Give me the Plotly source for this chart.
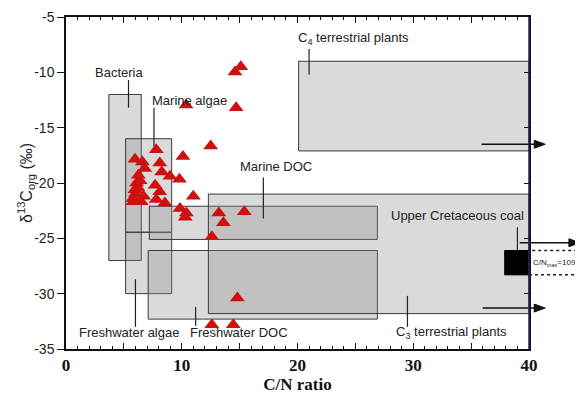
import plotly.graph_objects as go

# ---- data ----
cn_ratio = [10.37, 14.7, 14.6, 15.1, 12.5, 10.1, 7.8, 5.96, 6.6, 8.1, 6.8, 8.27, 8.98, 9.8,
            6.25, 6.1, 5.96, 5.8, 6.7, 7.7, 8.1, 7.8, 8.55, 5.8, 6.5, 11.0, 9.85, 10.4, 10.3,
            13.2, 15.4, 13.6, 12.6, 14.8, 12.6, 14.45, 6.2, 6.4, 6.0]
d13c = [-12.95, -13.2, -9.97, -9.5, -16.65, -17.6, -17.0, -17.85, -18.1, -18.2, -18.7, -19.0,
        -19.4, -19.65, -19.3, -20.0, -20.6, -21.4, -21.2, -20.2, -20.8, -21.5, -21.8, -21.7,
        -21.7, -21.2, -22.3, -22.7, -23.1, -22.7, -22.6, -23.6, -24.85, -30.4, -32.8, -32.8,
        -20.4, -19.8, -21.0]

box_names = ["Bacteria", "Marine algae", "Freshwater algae", "Marine DOC", "Freshwater DOC",
             "C3 terrestrial plants", "C4 terrestrial plants"]
box_x0 = [3.7, 5.15, 5.15, 7.2, 7.1, 12.3, 20.1]
box_x1 = [6.5, 9.13, 9.13, 26.9, 26.9, 40.0, 40.0]
box_y0 = [-27.0, -24.45, -30.0, -25.1, -32.3, -31.8, -17.1]
box_y1 = [-12.0, -16.0, -24.45, -22.1, -26.1, -21.0, -9.0]

coal_x = [37.9, 44.4]
coal_y = [-28.3, -26.1]

label_texts = ["Bacteria", "Marine algae", "C<sub>4</sub> terrestrial plants", "Marine DOC",
               "Upper Cretaceous coal", "Freshwater algae", "Freshwater DOC",
               "C<sub>3</sub> terrestrial plants"]
label_x = [2.3, 7.25, 19.9, 14.9, 27.9, 0.95, 10.55, 28.3]
label_y = [-9.97, -12.5, -6.9, -18.55, -22.9, -33.55, -33.55, -33.55]

leader_x = [5.4, 7.6, 21.0, 17.05, 39.0, 6.0, 11.2, 29.5]
leader_y0 = [-10.7, -13.2, -7.9, -19.5, -24.0, -28.7, -31.2, -30.2]
leader_y1 = [-13.2, -16.7, -10.2, -23.2, -26.1, -33.0, -32.9, -33.0]

arrow_y = [-16.5, -31.3, -25.4]
arrow_x0 = [35.9, 36.0, 39.2]
arrow_x1 = [41.4, 41.4, 44.4]

x_major = [0, 10, 20, 30, 40]
x_mid = [5, 15, 25, 35]
y_ticks = [-35, -30, -25, -20, -15, -10, -5]
y_ticktext = ["-35", "-30", "-25", "-20", "-15", "-10", "-5"]

XMAX = 40.0
YMIN, YMAX = -35.0, -5.0
# page body has an 8px margin, so the figure is offset by 8px
OFF = 8
FW, FH = 583 - OFF, 395 - OFF
L, R, T, B = 66 - OFF, 54, 17 - OFF, 46
W = FW - L - R
H = FH - T - B


def px_x(v):
    return v / XMAX


def px_y(v):
    return (v - YMIN) / (YMAX - YMIN)


fig = go.Figure()

fig.add_trace(go.Scatter(
    x=cn_ratio, y=d13c, mode="markers",
    marker=dict(symbol="triangle-up", size=13, color="#cf1010", line=dict(width=0)),
    showlegend=False, cliponaxis=False))

# empty traces to activate overlay axes (inward ticks on right, mid ticks on x)
fig.add_trace(go.Scatter(x=[None], y=[None], yaxis="y2", showlegend=False))
fig.add_trace(go.Scatter(x=[None], y=[None], xaxis="x2", showlegend=False))

shapes = []
for x0, x1, y0, y1 in zip(box_x0, box_x1, box_y0, box_y1):
    shapes.append(dict(type="rect", xref="x", yref="y", x0=x0, x1=x1, y0=y0, y1=y1,
                       fillcolor="rgba(140,140,140,0.32)",
                       line=dict(color="#3a3a3a", width=1), layer="below"))
# coal box (inside plot) and dashed continuation (outside plot)
shapes.append(dict(type="rect", xref="paper", yref="paper", x0=px_x(coal_x[0]), x1=1.0,
                   y0=px_y(coal_y[0]), y1=px_y(coal_y[1]), fillcolor="black",
                   line=dict(color="black", width=1)))
shapes.append(dict(type="rect", xref="paper", yref="paper", x0=1.0, x1=px_x(coal_x[1]),
                   y0=px_y(coal_y[0]), y1=px_y(coal_y[1]), fillcolor="rgba(0,0,0,0)",
                   line=dict(color="#222", width=1.5, dash="dot")))
for lx, ly0, ly1 in zip(leader_x, leader_y0, leader_y1):
    shapes.append(dict(type="line", xref="x", yref="y", x0=lx, x1=lx, y0=ly0, y1=ly1,
                       line=dict(color="#222", width=1.2), layer="below"))
# arrows: shaft + head (paper coords, outside plot allowed)
hw = 11.0 / W
hh = 4.0 / H
for ay, ax0, ax1 in zip(arrow_y, arrow_x0, arrow_x1):
    xs, xe, yy = px_x(ax0), px_x(ax1), px_y(ay)
    shapes.append(dict(type="line", xref="paper", yref="paper", x0=xs, x1=xe - hw * 0.5,
                       y0=yy, y1=yy, line=dict(color="#111", width=1.5)))
    shapes.append(dict(type="path", xref="paper", yref="paper",
                       path=f"M {xe - hw} {yy - hh} L {xe} {yy} L {xe - hw} {yy + hh} Z",
                       fillcolor="#111", line=dict(color="#111", width=1)))
# right axis line (navy)
shapes.append(dict(type="line", xref="paper", yref="paper", x0=1, x1=1, y0=0, y1=1,
                   line=dict(color="#1c2a5c", width=1.5)))

annotations = []
for t, x, y in zip(label_texts, label_x, label_y):
    annotations.append(dict(text=t, x=x, y=y, xref="x", yref="y", xanchor="left",
                            yanchor="middle", showarrow=False,
                            font=dict(family="Liberation Sans, Arial", size=13, color="#222")))
annotations.append(dict(text="C/N<sub>max</sub>=109", x=px_x((40 + coal_x[1]) / 2),
                        y=px_y((coal_y[0] + coal_y[1]) / 2), xref="paper", yref="paper",
                        xanchor="center", yanchor="middle",
                        showarrow=False, font=dict(family="Liberation Sans, Arial", size=8,
                                                   color="#222")))
annotations.append(dict(text="δ<sup>13</sup>C<sub>org</sub> (‰)", x=(26 - 66) / W, y=0.5,
                        xref="paper", yref="paper", textangle=-90, showarrow=False,
                        xanchor="center", yanchor="middle",
                        font=dict(family="Liberation Sans, Arial", size=16, color="#222")))

fig.update_layout(
    width=FW, height=FH,
    margin=dict(l=L, r=R, t=T, b=B, autoexpand=False),
    plot_bgcolor="white", paper_bgcolor="white",
    shapes=shapes, annotations=annotations,
    xaxis=dict(range=[0, 40], tickvals=x_major, ticks="inside", automargin=False,
               ticklen=6, tickwidth=1.2, tickcolor="#111", mirror="ticks", showline=True,
               linecolor="#111", linewidth=1.5, showgrid=False, zeroline=False,
               minor=dict(dtick=1, ticks="inside", ticklen=3, tickcolor="#111", showgrid=False),
               tickfont=dict(family="Liberation Serif, Times New Roman", size=17, color="#111",
                             weight="bold"),
               title=dict(text="<b>C/N ratio</b>", standoff=2,
                          font=dict(family="Liberation Serif, Times New Roman", size=17,
                                    color="#111"))),
    xaxis2=dict(range=[0, 40], tickvals=x_mid, overlaying="x", side="bottom",
                ticks="inside", ticklen=6, tickwidth=1.2, tickcolor="#111", mirror="ticks",
                showticklabels=False, showgrid=False, zeroline=False, showline=False,
                automargin=False),
    yaxis=dict(range=[-35, -5], tickvals=y_ticks, ticktext=y_ticktext, ticks="outside",
               ticklen=7, automargin=False,
               tickcolor="#111", showline=True, mirror=True, linecolor="#111", linewidth=1.5,
               showgrid=False, zeroline=False,
               tickfont=dict(family="Liberation Sans, Arial", size=14, color="#222")),
    yaxis2=dict(range=[-35, -5], tickvals=y_ticks, overlaying="y", side="right",
                ticks="inside", ticklen=5, tickcolor="#111", showticklabels=False,
                showgrid=False, zeroline=False, showline=False, automargin=False),
)

fig.write_html("out.html")
